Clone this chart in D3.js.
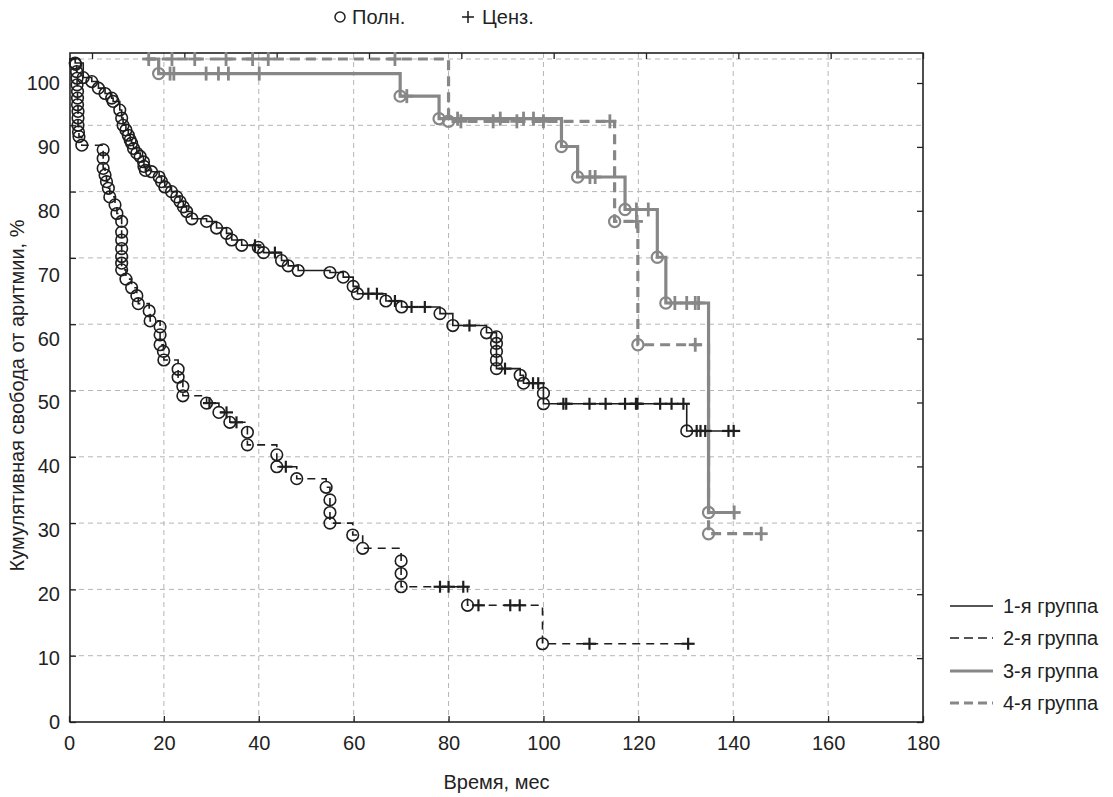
<!DOCTYPE html>
<html><head><meta charset="utf-8">
<script src="https://cdn.jsdelivr.net/npm/d3@7"></script>
<style>body{margin:0;background:#fff} svg{font-family:"Liberation Sans",Arial,sans-serif}</style>
</head><body><svg id="c" width="1113" height="797"></svg>
<script>
// ---------- data ----------
const groupNames = ["1-я группа","2-я группа","3-я группа","4-я группа"];
const xTicks = [0,20,40,60,80,100,120,140,160,180];
const yTicks = [0,10,20,30,40,50,60,70,80,90,100];

const g1Start = 0;
const g1Times  = [1.3,3.0,4.8,6.2,7.6,9.0,9.3,10.7,11.1,11.4,12.0,12.5,12.9,13.2,13.6,14.3,15.0,15.7,15.8,16.1,17.4,19.0,19.5,20.2,21.6,22.7,23.4,24.1,24.8,25.9,29.0,31.1,33.2,34.3,36.4,39.9,41.0,44.8,46.2,48.3,55.0,57.8,59.9,60.8,66.8,70.1,78.2,80.9,88.0,90.1,90.1,90.1,90.1,90.1,95.1,95.8,100.0,100.0,130.2];
const g1Values = [99.4,97.2,96.6,95.6,94.8,94.1,93.6,92.3,91.1,90.0,89.3,88.5,87.8,87.3,86.5,85.8,85.3,84.5,83.8,83.2,83.0,82.2,81.5,80.7,80.0,79.2,78.5,77.7,77.0,75.9,75.5,74.5,73.7,72.7,71.9,71.6,70.8,69.6,68.8,68.1,67.8,67.1,65.7,64.6,63.5,62.6,61.6,59.8,58.7,58.1,57.1,55.9,54.6,53.3,52.3,51.1,49.6,48.0,43.9];
const g1Cens   = [39.2,43.4,63.1,64.9,68.7,72.2,75.0,84.4,91.9,97.8,98.9,104.2,104.8,109.7,113.1,117.2,119.5,119.8,124.6,127.0,129.5,132.3,133.1,134.1,139.0,140.1];

const g2Start = 0;
const g2Times  = [1.4,1.6,1.7,1.7,1.8,1.8,1.8,1.9,1.9,1.9,2.0,2.1,2.7,7.2,7.2,7.2,7.6,7.9,8.3,8.6,9.7,10.1,11.1,11.1,11.1,11.1,11.1,11.1,11.1,12.0,13.2,14.3,14.6,16.9,17.1,19.2,19.2,19.2,19.9,20.0,23.0,23.0,24.0,24.0,29.0,31.6,33.9,37.6,37.6,43.8,43.8,48.0,54.2,55.0,55.0,55.0,59.8,61.9,70.0,70.0,70.0,84.0,99.8];
const g2Values = [99.2,98.1,97.1,96.1,95.1,94.1,93.1,92.1,91.1,90.0,89.0,88.3,87.0,86.3,85.0,83.5,82.5,81.5,80.5,79.2,78.0,76.7,75.5,73.9,72.7,71.4,70.2,69.2,68.2,66.8,65.5,64.3,63.1,62.0,60.5,59.6,58.4,56.9,55.9,54.6,53.2,52.0,50.6,49.2,48.1,46.7,45.2,43.7,41.8,40.3,38.5,36.7,35.4,33.5,31.6,30.0,28.2,26.2,24.3,22.4,20.4,17.6,11.8];
const g2Cens   = [29.6,33.2,35.3,45.7,78.2,80.0,83.1,86.3,93.0,95.0,109.7,130.5];

const g3Start = 16.4;
const g3Times  = [18.9,69.8,78.0,103.8,107.2,117.2,124.0,125.8,134.8];
const g3Values = [97.8,94.4,91.0,86.8,82.2,77.3,70.1,63.2,31.6];
const g3Cens   = [21.3,22.1,28.9,31.5,33.6,40.1,71.2,81.9,90.9,95.8,97.9,109.8,110.9,119.6,122.1,127.7,130.2,132.0,132.7,140.2];

const g4Start = 16.2;
const g4Times  = [80.0,115.0,119.9,134.8];
const g4Values = [90.6,75.5,56.9,28.4];
const g4Cens   = [16.8,21.7,26.5,33.1,38.7,42.0,68.7,82.6,89.4,94.4,100.0,114.0,119.6,132.0,145.9];

// ---------- layout ----------
const svg = d3.select("#c");
const L = 70, R = 923, T = 53, B = 722;
const x = d3.scaleLinear().domain([0,180]).range([69,923]);
const y = d3.scaleLinear().domain([0,100]).range([722,59]);
// tick labels / right & top ticks of the original figure are drawn on slightly different spacing
const yLab = d3.scaleLinear().domain([0,100]).range([722,83]);
const xTop = d3.scaleLinear().domain([0,180]).range([92,923]);

// gridlines
const grid = svg.append("g").attr("stroke","#b5b5b5").attr("stroke-width",1).attr("stroke-dasharray","5,4");
grid.selectAll("line.v").data(xTicks.filter(d=>d>0 && d<180)).join("line")
  .attr("x1",d=>x(d)).attr("x2",d=>x(d)).attr("y1",T).attr("y2",B);
grid.selectAll("line.h").data(yTicks.filter(d=>d>0)).join("line")
  .attr("x1",L).attr("x2",R).attr("y1",d=>y(d)).attr("y2",d=>y(d));

// axes
const fs = 20;
const ax = svg.append("g").attr("transform",`translate(0,${B})`)
  .call(d3.axisBottom(x).tickValues(xTicks).tickSize(-6).tickPadding(14));
const ayl = svg.append("g").attr("transform",`translate(${L},0)`)
  .call(d3.axisLeft(y).tickValues(yTicks).tickSize(-6).tickFormat(""));
const ayLab = svg.append("g").attr("transform",`translate(${L},0)`)
  .call(d3.axisLeft(yLab).tickValues(yTicks).tickSize(0).tickPadding(10));
const ar = svg.append("g").attr("transform",`translate(${R},0)`)
  .call(d3.axisRight(yLab).tickValues(yTicks).tickSize(-6).tickFormat(""));
const at = svg.append("g").attr("transform",`translate(0,${T})`)
  .call(d3.axisTop(xTop).tickValues(xTicks).tickSize(-6).tickFormat(""));
[ax,ayl,ayLab,ar,at].forEach(g=>{
  g.select(".domain").remove();
  g.selectAll("line").attr("stroke","#222").attr("stroke-width",1.3);
  g.selectAll("text").attr("font-size",fs).attr("fill","#222").attr("font-family","Liberation Sans, Arial, sans-serif");
});
svg.append("rect").attr("x",L).attr("y",T).attr("width",R-L).attr("height",B-T)
  .attr("fill","none").attr("stroke","#222").attr("stroke-width",1.6);

// axis titles
svg.append("text").attr("x",(L+R)/2).attr("y",789).attr("text-anchor","middle")
  .attr("font-size",fs).attr("fill","#222").text("Время, мес");
svg.append("text").attr("transform",`translate(24,${(T+B)/2+8}) rotate(-90)`).attr("text-anchor","middle")
  .attr("font-size",fs).attr("fill","#222").text("Кумулятивная свобода от аритмии, %");

// ---------- curves ----------
const groups = [
  {start:g1Start,t:g1Times,v:g1Values,c:g1Cens,color:"#1e1e1e",w:1.6,dash:null,r:5.8,cw:1.6,ch:6.5,cv:6},
  {start:g2Start,t:g2Times,v:g2Values,c:g2Cens,color:"#1e1e1e",w:1.6,dash:"8,6",r:5.8,cw:1.6,ch:6.5,cv:6},
  {start:g3Start,t:g3Times,v:g3Values,c:g3Cens,color:"#878787",w:3.2,dash:null,r:5.6,cw:2.2,ch:6.5,cv:7},
  {start:g4Start,t:g4Times,v:g4Values,c:g4Cens,color:"#878787",w:3.2,dash:"10,6",r:5.6,cw:2.2,ch:6.5,cv:7}
];
function valAt(gr,tt){let v=100;gr.t.forEach((t,i)=>{if(t<=tt)v=gr.v[i];});return v;}
const line = d3.line().x(d=>x(d[0])).y(d=>y(d[1]));
[3,2,1,0].forEach(i=>{
  const gr = groups[i];
  const end = Math.max(d3.max(gr.c), d3.max(gr.t));
  const pts = [[gr.start,100]]; let prev=100;
  gr.t.forEach((t,k)=>{pts.push([t,prev]);pts.push([t,gr.v[k]]);prev=gr.v[k];});
  pts.push([end,prev]);
  const g = svg.append("g");
  g.append("path").attr("d",line(pts)).attr("fill","none").attr("stroke",gr.color)
    .attr("stroke-width",gr.w).attr("stroke-dasharray",gr.dash);
  g.selectAll("circle").data(gr.t.map((t,k)=>[t,gr.v[k]])).join("circle")
    .attr("cx",d=>x(d[0])).attr("cy",d=>y(d[1])).attr("r",gr.r)
    .attr("fill","none").attr("stroke",gr.color).attr("stroke-width",gr.cw);
  const cz = g.selectAll("g.cz").data(gr.c).join("g")
    .attr("transform",d=>`translate(${x(d)},${y(valAt(gr,d))})`)
    .attr("stroke",gr.color).attr("stroke-width",gr.cw+0.6);
  cz.append("line").attr("x1",-gr.ch).attr("x2",gr.ch);
  cz.append("line").attr("y1",-gr.cv).attr("y2",gr.cv);
});

// ---------- legends ----------
const lg = svg.append("g").attr("transform","translate(950,0)");
const legY = [606,638,671,703];
groups.forEach((gr,i)=>{
  lg.append("line").attr("x1",0).attr("x2",43).attr("y1",legY[i]).attr("y2",legY[i])
    .attr("stroke",gr.color).attr("stroke-width",gr.w).attr("stroke-dasharray",gr.dash?"9,5":null);
  lg.append("text").attr("x",53).attr("y",legY[i]).attr("dy","0.35em")
    .attr("font-size",fs).attr("fill","#222").text(groupNames[i]);
});
const tl = svg.append("g");
tl.append("circle").attr("cx",340).attr("cy",17).attr("r",5).attr("fill","none").attr("stroke","#222").attr("stroke-width",1.5);
tl.append("text").attr("x",352).attr("y",17).attr("dy","0.35em").attr("font-size",fs).attr("fill","#222").text("Полн.");
tl.append("line").attr("x1",462).attr("x2",474).attr("y1",17).attr("y2",17).attr("stroke","#222").attr("stroke-width",1.6);
tl.append("line").attr("x1",468).attr("x2",468).attr("y1",11).attr("y2",23).attr("stroke","#222").attr("stroke-width",1.6);
tl.append("text").attr("x",482).attr("y",17).attr("dy","0.35em").attr("font-size",fs).attr("fill","#222").text("Ценз.");
</script></body></html>
